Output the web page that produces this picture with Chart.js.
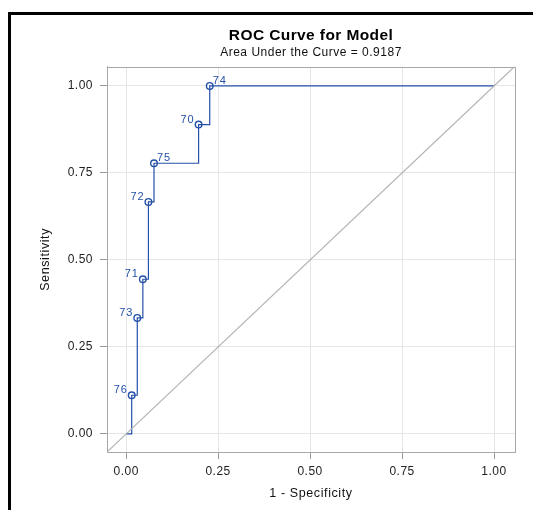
<!DOCTYPE html>
<html>
<head>
<meta charset="utf-8">
<script src="https://cdn.jsdelivr.net/npm/chart.js@4.4.1/dist/chart.umd.min.js"></script>
<style>
  html, body { margin: 0; padding: 0; background: #fff; }
  #wrap { position: relative; width: 533px; height: 510px; overflow: hidden; }
  #cadre { position: absolute; left: 8px; top: 12px; width: 600px; height: 600px;
           border-top: 3px solid #000; border-left: 3px solid #000; }
  canvas { position: absolute; left: 0; top: 0; }
</style>
</head>
<body>
<div id="wrap">
  <div id="cadre"></div>
  <canvas id="roc" width="533" height="510"></canvas>
</div>
<script>
// Points de la courbe ROC : 1 - spécificité, sensibilité
const fpr = [0, 1/66, 2/66, 3/66, 4/66, 5/66, 13/66, 15/66, 1];
const tpr = [0, 1/9, 3/9, 4/9, 6/9, 7/9, 8/9, 1, 1];
const pointLabels = ['', '76', '73', '71', '72', '75', '70', '74', ''];
const labelSide = ['', 'left', 'left', 'left', 'left', 'right', 'left', 'right', ''];
const tickValues = [0, 0.25, 0.5, 0.75, 1];
const diagX = [-0.1, 1.1]; // diagonale de référence
const diagY = [-0.1, 1.1];

const FONT = '"Liberation Sans", Arial, sans-serif';
const blue = '#2450a8';

// Espacement des lettres selon la taille de police (le rendu d'origine est plus aéré)
const letterGap = { 'bold 15.5px': 0.4, '12px': 0.5, '12.5px': 0.6, '11px': 0.9 };
const gapPlugin = {
  id: 'espacement',
  beforeDraw(chart) {
    const ctx = chart.ctx;
    if (ctx._gapPatched) return;
    const fill = ctx.fillText;
    ctx.fillText = function(t, x, y, w) {
      let gap = 0;
      Object.keys(letterGap).forEach(k => {
        if (this.font.indexOf(k + ' ') === 0 || this.font.indexOf(' ' + k + ' ') >= 0) gap = letterGap[k];
      });
      if ('letterSpacing' in this) this.letterSpacing = gap + 'px';
      fill.call(this, t, x, y, w);
    };
    ctx._gapPatched = true;
  }
};

// Cadre gris autour de la zone de tracé
const framePlugin = {
  id: 'cadrePlot',
  beforeDatasetsDraw(chart) {
    const a = chart.chartArea, ctx = chart.ctx;
    ctx.save();
    ctx.strokeStyle = '#a8a8a8';
    ctx.lineWidth = 1;
    ctx.strokeRect(Math.round(a.left) + 0.5, Math.round(a.top) + 0.5,
                   Math.round(a.right - a.left), Math.round(a.bottom - a.top));
    ctx.restore();
  }
};

// Étiquettes des points (numéros d'observation)
const labelPlugin = {
  id: 'etiquettes',
  afterDatasetsDraw(chart) {
    const meta = chart.getDatasetMeta(1);
    const ctx = chart.ctx;
    ctx.save();
    ctx.font = '11px ' + FONT;
    ctx.fillStyle = blue;
    ctx.textBaseline = 'alphabetic';
    meta.data.forEach(function(pt, i) {
      if (!pointLabels[i]) return;
      if (labelSide[i] === 'right') {
        ctx.textAlign = 'left';
        ctx.fillText(pointLabels[i], pt.x + 3, pt.y - 2);
      } else {
        ctx.textAlign = 'right';
        ctx.fillText(pointLabels[i], pt.x - 4, pt.y - 2);
      }
    });
    ctx.restore();
  }
};

const axisCommon = {
  type: 'linear',
  afterBuildTicks: function(s) { s.ticks = tickValues.map(v => ({ value: v })); },
  grid: { color: '#e6e6e6', lineWidth: 1, tickLength: 7, tickColor: '#999', drawTicks: true },
  border: { display: true, color: '#a8a8a8' },
};

new Chart(document.getElementById('roc'), {
  type: 'scatter',
  data: {
    datasets: [
      {
        label: 'diagonale',
        data: diagX.map((x, i) => ({ x: x, y: diagY[i] })),
        showLine: true,
        borderColor: '#b4b4b4',
        borderWidth: 1.2,
        pointRadius: 0,
        fill: false
      },
      {
        label: 'ROC',
        data: fpr.map((x, i) => ({ x: x, y: tpr[i] })),
        showLine: true,
        stepped: 'before',
        borderColor: blue,
        borderWidth: 1.2,
        pointRadius: ctx => pointLabels[ctx.dataIndex] ? 3.3 : 0,
        pointStyle: 'circle',
        pointBackgroundColor: 'rgba(255,255,255,0)',
        pointBorderColor: blue,
        pointBorderWidth: 1.4,
        fill: false
      }
    ]
  },
  options: {
    responsive: false,
    animation: false,
    layout: { padding: { left: 0, right: 18, top: 0, bottom: 0 } },
    plugins: {
      legend: { display: false },
      tooltip: { enabled: false },
      title: {
        display: true,
        text: 'ROC Curve for Model',
        fullSize: false,
        color: '#000',
        font: { family: FONT, size: 15.5, weight: 'bold' },
        padding: { top: 26, bottom: 0.5 }
      },
      subtitle: {
        display: true,
        text: 'Area Under the Curve = 0.9187',
        fullSize: false,
        color: '#111',
        font: { family: FONT, size: 12 },
        padding: { top: 0, bottom: 7.3 }
      }
    },
    scales: {
      x: Object.assign({}, axisCommon, {
        min: -0.052, max: 1.057,
        afterFit: function(s) { s.height = 58; },
        ticks: { color: '#222', font: { family: FONT, size: 12 }, padding: 5,
                 callback: v => v.toFixed(2) },
        title: { display: true, text: '1 - Specificity', color: '#111',
                 font: { family: FONT, size: 12.5 }, padding: { top: 0, bottom: 9 } }
      }),
      y: Object.assign({}, axisCommon, {
        min: -0.052, max: 1.055,
        afterFit: function(s) { s.width = 107; },
        ticks: { color: '#222', font: { family: FONT, size: 12 }, padding: 7,
                 callback: v => v.toFixed(2) },
        title: { display: true, text: 'Sensitivity', color: '#111',
                 font: { family: FONT, size: 12.5 }, padding: { top: 38, bottom: 0 } }
      })
    }
  },
  plugins: [gapPlugin, framePlugin, labelPlugin]
});
</script>
</body>
</html>
